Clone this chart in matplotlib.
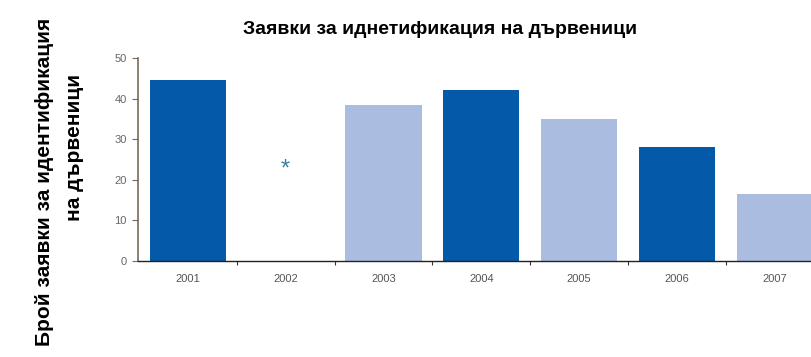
import matplotlib
matplotlib.use("Agg")
import matplotlib.pyplot as plt
import numpy as np

years = ["2001", "2002", "2003", "2004", "2005", "2006", "2007"]
values = [44.5, 0, 38.5, 42, 35, 28, 16.5]
missing_year = "2002"
missing_marker_value = 22.5
dark = "#0459a8"
light = "#aabce0"
bar_colors = [dark, "none", light, dark, light, dark, light]

plt.rcParams['font.family'] = ['Liberation Sans', 'DejaVu Sans']
fig = plt.figure(figsize=(8.11, 3.57), dpi=100)
ax = fig.add_axes([138/811, 1-261/357, 1-138/811, (261-58)/357])

x = np.arange(len(years))
for xi, v, c in zip(x, values, bar_colors):
    if c != "none":
        ax.bar(xi, v, width=0.78, color=c, zorder=2)
mi = years.index(missing_year)
ax.text(mi, missing_marker_value, "*", ha="center", va="center", fontsize=17,
        color="#3d7f9e")

ax.set_xlim(-0.51, 6.37)
ax.set_ylim(0, 50)
ax.set_yticks([0, 10, 20, 30, 40, 50])
ax.tick_params(axis="y", labelsize=8, labelcolor="#666666", length=4, color="#7a6a5a", width=0.8, pad=4)
ax.set_xticks(x)
ax.set_xticklabels(years)
ax.tick_params(axis="x", labelsize=8, labelcolor="#555555", length=0, pad=9)
ax.set_xticks(np.arange(0.5, 6, 1), minor=True)
ax.tick_params(axis="x", which="minor", length=3, color="#333333", width=0.8)
for s in ["top", "right"]:
    ax.spines[s].set_visible(False)
ax.spines["left"].set_color("#7a6a5a")
ax.spines["bottom"].set_color("#222222")
ax.spines["left"].set_linewidth(1.2)
ax.spines["bottom"].set_linewidth(1.0)

fig.text(440/811, 1-30/357, "Заявки за иднетификация на дървеници", ha="center", va="center",
         fontsize=14, fontweight="bold")
fig.text(45/811, 1-182/357, "Брой заявки за идентификация", rotation=90, ha="center", va="center",
         fontsize=15, fontweight="bold")
fig.text(75/811, 1-147/357, "на дървеници", rotation=90, ha="center", va="center",
         fontsize=15, fontweight="bold")

fig.savefig("out.png", dpi=100)
